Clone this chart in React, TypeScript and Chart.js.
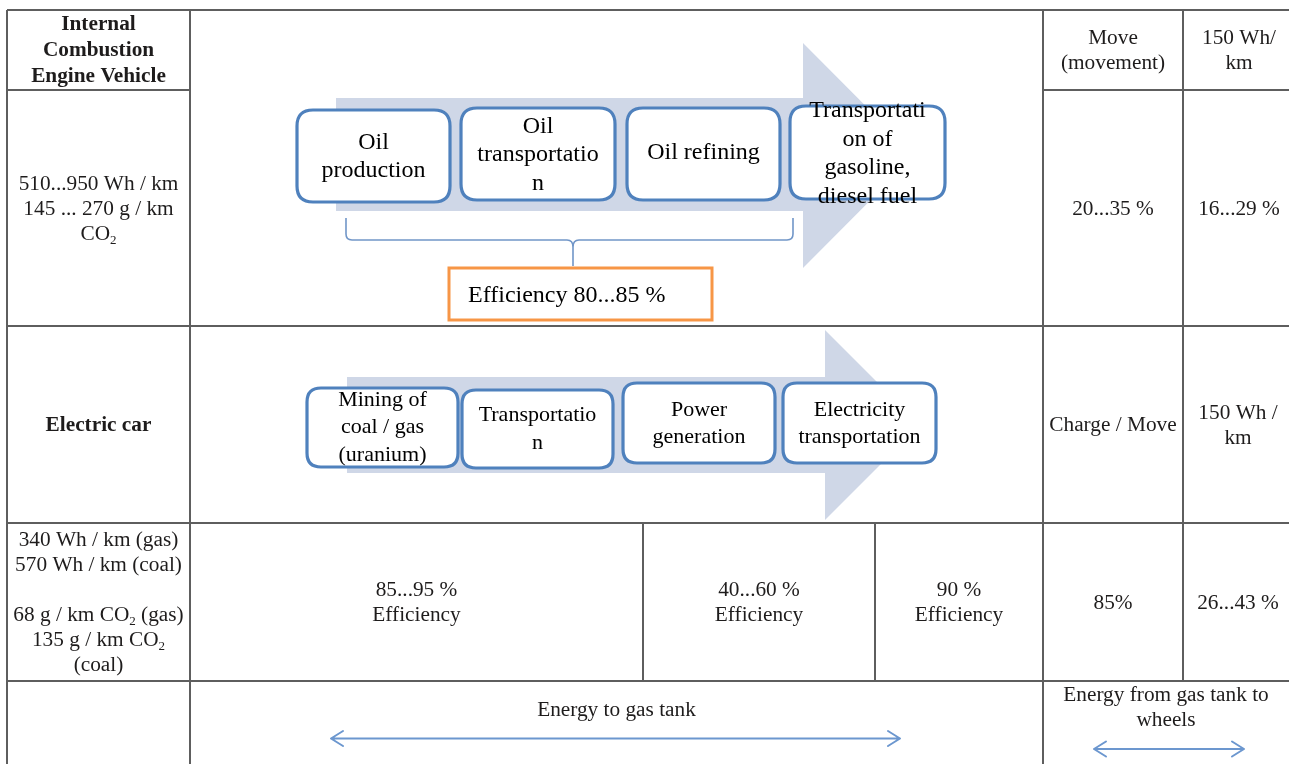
import React, { useEffect, useRef } from "react";
import { Chart, registerables } from "chart.js";

Chart.register(...registerables);

const W = 1289;
const H = 764;

// ---------------- content (data) ----------------
const ROW_HEADERS = ["Internal\nCombustion\nEngine Vehicle", "Electric car"];
const ICE_CHAIN_STEPS = [
  "Oil\nproduction",
  "Oil\ntransportatio\nn",
  "Oil refining",
  "Transportati\non of\ngasoline,\ndiesel fuel",
];
const EV_CHAIN_STEPS = [
  "Mining of\ncoal / gas\n(uranium)",
  "Transportatio\nn",
  "Power\ngeneration",
  "Electricity\ntransportation",
];
const ICE_CHAIN_EFFICIENCY = "Efficiency 80...85 %";
const ICE_WELL_TO_TANK = ["510...950 Wh / km", "145 ... 270 g / km", "CO_2"];
const EV_WELL_TO_TANK = [
  "340 Wh / km (gas)",
  "570 Wh / km (coal)",
  "",
  "68 g / km CO_2 (gas)",
  "135 g / km CO_2",
  "(coal)",
];
const EV_STAGE_EFFICIENCY = ["85...95 %\nEfficiency", "40...60 %\nEfficiency", "90 %\nEfficiency"];
const TANK_TO_WHEEL_STAGE = ["Move\n(movement)", "Charge / Move"];
const TANK_TO_WHEEL_EFFICIENCY = ["20...35 %", "85%"];
const CONSUMPTION = ["150 Wh/\nkm", "150 Wh /\nkm"];
const OVERALL_EFFICIENCY = ["16...29 %", "26...43 %"];
const SPAN_LABELS = ["Energy to gas tank", "Energy from gas tank to\nwheels"];

// ---------------- layout (geometry in chart units) ----------------
// table grid segments: [x0, y0, x1, y1]
const GRID_SEGMENTS: number[][] = [
  [7, 10, 1289, 10],
  [7, 90, 190, 90],
  [1043, 90, 1289, 90],
  [7, 326, 1289, 326],
  [7, 523, 1289, 523],
  [7, 681, 1289, 681],
  [7, 10, 7, 764],
  [190, 10, 190, 764],
  [1043, 10, 1043, 764],
  [1183, 10, 1183, 681],
  [643, 523, 643, 681],
  [875, 523, 875, 681],
];

// big light chevron arrows: [bodyX0, bodyTop, bodyX1, bodyBottom, headTop, headBottom, tipX]
const CHEVRONS = [
  [336, 98, 803, 211, 43, 268, 915],
  [347, 377, 825, 473, 330, 520, 920],
];
// boxes: [x0, y0, x1, y1, textCenterY]
const ICE_BOXES = [
  [297, 110, 450, 202, 156.5],
  [461, 108, 615, 200, 155],
  [627, 108, 780, 200, 153],
  [790, 106, 945, 199, 153.5],
];
const EV_BOXES = [
  [307, 388, 458, 467, 427.5],
  [462, 390, 613, 468, 429],
  [623, 383, 775, 463, 423.5],
  [783, 383, 936, 463, 423.5],
];

const SERIF = '"Liberation Serif", "Times New Roman", serif';
const GRID_COLOR = "#5e5e5e";
const TEXT_COLOR = "#1e1c1c";
const BOX_COLOR = "#4f81bd";
const CHEVRON_COLOR = "#cfd7e7";
const ORANGE = "#f79646";
const SPAN_ARROW_COLOR = "#6c97cf";

type Ctx = CanvasRenderingContext2D;

function drawRichLine(ctx: Ctx, text: string, cx: number, cy: number, size: number, bold = false, align: "center" | "left" = "center") {
  const parts = text.split(/_(\d)/);
  const mainFont = `${bold ? "bold " : ""}${size}px ${SERIF}`;
  const subFont = `${bold ? "bold " : ""}${Math.round(size * 0.62)}px ${SERIF}`;
  let total = 0;
  parts.forEach((p, i) => {
    ctx.font = i % 2 === 1 ? subFont : mainFont;
    total += ctx.measureText(p).width;
  });
  let x = align === "center" ? cx - total / 2 : cx;
  ctx.textAlign = "left";
  ctx.textBaseline = "middle";
  parts.forEach((p, i) => {
    const sub = i % 2 === 1;
    ctx.font = sub ? subFont : mainFont;
    ctx.fillText(p, x, cy + (sub ? size * 0.3 : 0));
    x += ctx.measureText(p).width;
  });
}

function drawBlock(ctx: Ctx, lines: string[], cx: number, cy: number, size: number, lh: number, bold = false) {
  const n = lines.length;
  lines.forEach((ln, i) => {
    const y = cy + (i - (n - 1) / 2) * lh;
    if (ln) drawRichLine(ctx, ln, cx, y, size, bold);
  });
}

function roundRect(ctx: Ctx, x0: number, y0: number, x1: number, y1: number, r: number) {
  ctx.beginPath();
  ctx.moveTo(x0 + r, y0);
  ctx.lineTo(x1 - r, y0);
  ctx.quadraticCurveTo(x1, y0, x1, y0 + r);
  ctx.lineTo(x1, y1 - r);
  ctx.quadraticCurveTo(x1, y1, x1 - r, y1);
  ctx.lineTo(x0 + r, y1);
  ctx.quadraticCurveTo(x0, y1, x0, y1 - r);
  ctx.lineTo(x0, y0 + r);
  ctx.quadraticCurveTo(x0, y0, x0 + r, y0);
  ctx.closePath();
}

function drawSpanArrow(ctx: Ctx, x0: number, x1: number, y: number, hw: number, hh: number) {
  ctx.save();
  ctx.strokeStyle = SPAN_ARROW_COLOR;
  ctx.lineWidth = 2;
  ctx.lineCap = "round";
  ctx.lineJoin = "round";
  ctx.beginPath();
  ctx.moveTo(x0, y);
  ctx.lineTo(x1, y);
  ctx.moveTo(x0 + hw, y - hh);
  ctx.lineTo(x0, y);
  ctx.lineTo(x0 + hw, y + hh);
  ctx.moveTo(x1 - hw, y - hh);
  ctx.lineTo(x1, y);
  ctx.lineTo(x1 - hw, y + hh);
  ctx.stroke();
  ctx.restore();
}

const diagramPlugin = {
  id: "diagram",
  beforeDatasetsDraw(chart: any) {
    const ctx: Ctx = chart.ctx;
    const X = (v: number) => chart.scales.x.getPixelForValue(v);
    const Y = (v: number) => chart.scales.y.getPixelForValue(v);
    ctx.save();
    ctx.fillStyle = CHEVRON_COLOR;
    CHEVRONS.forEach(([bx0, bt, bx1, bb, ht, hb, tip]) => {
      ctx.beginPath();
      ctx.moveTo(X(bx0), Y(bt));
      ctx.lineTo(X(bx1), Y(bt));
      ctx.lineTo(X(bx1), Y(ht));
      ctx.lineTo(X(tip), Y((ht + hb) / 2));
      ctx.lineTo(X(bx1), Y(hb));
      ctx.lineTo(X(bx1), Y(bb));
      ctx.lineTo(X(bx0), Y(bb));
      ctx.closePath();
      ctx.fill();
    });
    ctx.restore();
  },
  afterDatasetsDraw(chart: any) {
    const ctx: Ctx = chart.ctx;
    const X = (v: number) => chart.scales.x.getPixelForValue(v);
    const Y = (v: number) => chart.scales.y.getPixelForValue(v);
    ctx.save();

    // bracket under ICE chain
    ctx.strokeStyle = "#7196c8";
    ctx.lineWidth = 1.6;
    ctx.beginPath();
    ctx.moveTo(X(346), Y(218));
    ctx.lineTo(X(346), Y(234));
    ctx.quadraticCurveTo(X(346), Y(240), X(352), Y(240));
    ctx.lineTo(X(567), Y(240));
    ctx.quadraticCurveTo(X(573), Y(240), X(573), Y(247));
    ctx.lineTo(X(573), Y(266));
    ctx.moveTo(X(573), Y(247));
    ctx.quadraticCurveTo(X(573), Y(240), X(579), Y(240));
    ctx.lineTo(X(787), Y(240));
    ctx.quadraticCurveTo(X(793), Y(240), X(793), Y(234));
    ctx.lineTo(X(793), Y(218));
    ctx.stroke();

    // process boxes
    const boxes = (list: number[][], labels: string[], r: number, size: number, lh: number) => {
      list.forEach(([x0, y0, x1, y1]) => {
        roundRect(ctx, X(x0), Y(y0), X(x1), Y(y1), r);
        ctx.fillStyle = "#ffffff";
        ctx.fill();
        ctx.strokeStyle = BOX_COLOR;
        ctx.lineWidth = 3.2;
        ctx.stroke();
      });
      ctx.fillStyle = "#000000";
      list.forEach(([x0, , x1, , ty], i) => {
        drawBlock(ctx, labels[i].split("\n"), X((x0 + x1) / 2), Y(ty), size, lh);
      });
    };
    boxes(ICE_BOXES, ICE_CHAIN_STEPS, 16, 24, 28.5);
    boxes(EV_BOXES, EV_CHAIN_STEPS, 14, 22, 27.5);

    // orange efficiency box
    ctx.fillStyle = "#ffffff";
    ctx.fillRect(X(449), Y(268), X(712) - X(449), Y(320) - Y(268));
    ctx.strokeStyle = ORANGE;
    ctx.lineWidth = 3;
    ctx.strokeRect(X(449), Y(268), X(712) - X(449), Y(320) - Y(268));
    ctx.fillStyle = "#000000";
    drawRichLine(ctx, ICE_CHAIN_EFFICIENCY, X(468), Y(296), 24, false, "left");

    // table text
    ctx.fillStyle = TEXT_COLOR;
    const T = 21.3;
    const LH = 25;
    const block = (s: string | string[], cx: number, cy: number, bold = false, lh = LH) =>
      drawBlock(ctx, Array.isArray(s) ? s : s.split("\n"), X(cx), Y(cy), T, lh, bold);

    block(ROW_HEADERS[0], 98.5, 50.5, true, 26);
    block(ROW_HEADERS[1], 98.5, 425.5, true);
    block(ICE_WELL_TO_TANK, 98.5, 209.5);
    block(EV_WELL_TO_TANK, 98.5, 603);

    block(TANK_TO_WHEEL_STAGE[0], 1113, 51);
    block(TANK_TO_WHEEL_STAGE[1], 1113, 425.5);
    block(CONSUMPTION[0], 1239, 51);
    block(CONSUMPTION[1], 1238, 426);
    block(TANK_TO_WHEEL_EFFICIENCY[0], 1113, 209.5);
    block(TANK_TO_WHEEL_EFFICIENCY[1], 1113, 603.5);
    block(OVERALL_EFFICIENCY[0], 1239, 209.5);
    block(OVERALL_EFFICIENCY[1], 1238, 603.5);

    const stageX = [416.5, 759, 959];
    EV_STAGE_EFFICIENCY.forEach((s, i) => block(s, stageX[i], 603));

    block(SPAN_LABELS[0], 616.5, 710.5);
    block(SPAN_LABELS[1], 1166, 708);

    ctx.restore();

    drawSpanArrow(ctx, X(331), X(900), Y(738.5), 12, 7.5);
    drawSpanArrow(ctx, X(1094), X(1244), Y(749), 12, 7.5);
  },
};

export default function App() {
  const canvasRef = useRef<HTMLCanvasElement | null>(null);

  useEffect(() => {
    const canvas = canvasRef.current;
    if (!canvas) return;
    const datasets = GRID_SEGMENTS.map(([x0, y0, x1, y1], i) => ({
      label: `grid-${i}`,
      data: [
        { x: x0, y: y0 },
        { x: x1, y: y1 },
      ],
      showLine: true,
      borderColor: GRID_COLOR,
      borderWidth: 2,
      pointRadius: 0,
      pointHoverRadius: 0,
      fill: false,
    }));
    const chart = new Chart(canvas, {
      type: "scatter",
      data: { datasets },
      options: {
        animation: false,
        responsive: false,
        maintainAspectRatio: false,
        devicePixelRatio: 1,
        layout: { padding: 0 },
        events: [],
        plugins: { legend: { display: false }, tooltip: { enabled: false } },
        scales: {
          x: { type: "linear", min: 0, max: W, display: false },
          y: { type: "linear", min: 0, max: H, reverse: true, display: false },
        },
      },
      plugins: [diagramPlugin],
    } as any);
    return () => chart.destroy();
  }, []);

  return (
    <div style={{ position: "absolute", left: 0, top: 0, width: W, height: H, background: "#ffffff" }}>
      <canvas ref={canvasRef} width={W} height={H} style={{ display: "block", width: W, height: H }} />
    </div>
  );
}
